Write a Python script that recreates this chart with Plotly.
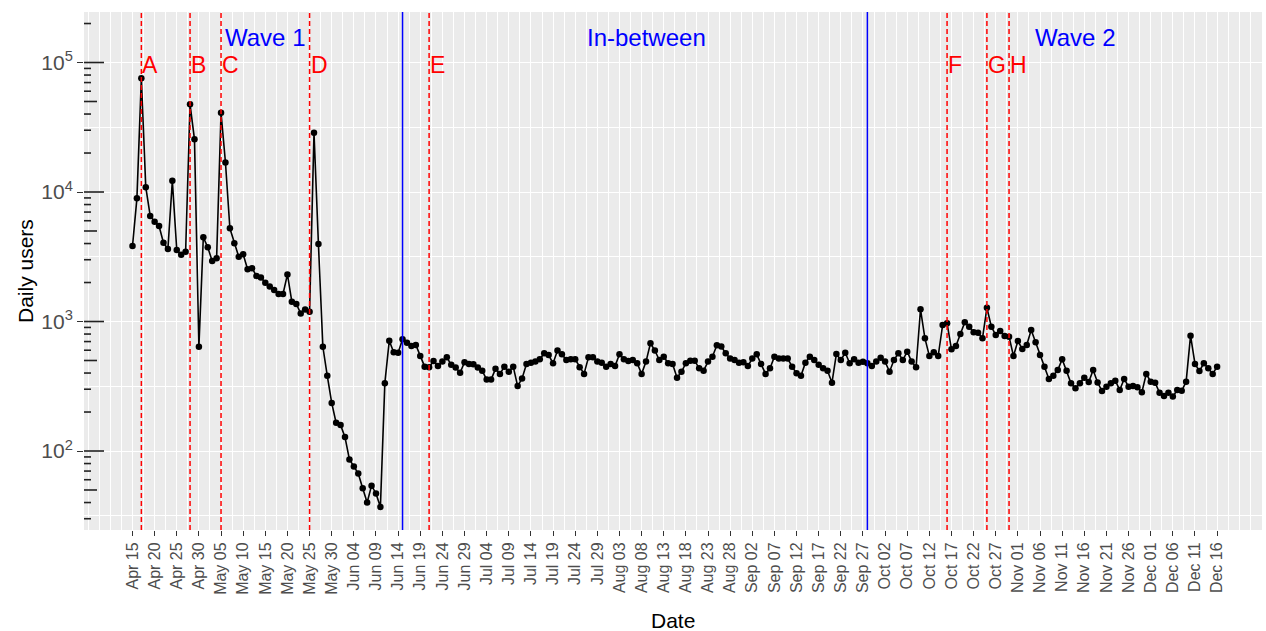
import pandas as pd
import plotly.graph_objects as go

# ---------------- data ----------------
start_date = "2020-04-15"
daily_users = [
    3830, 8930, 75500, 10900, 6530, 5900, 5460, 4050, 3630, 12200,      # Apr 15 - Apr 24
    3570, 3270, 3460, 47500, 25500, 638, 4470, 3740, 2930, 3080,         # Apr 25 - May 04
    40900, 16900, 5250, 4020, 3160, 3300, 2530, 2580, 2250, 2190,        # May 05 - May 14
    1995, 1860, 1750, 1630, 1630, 2310, 1420, 1365, 1155, 1240,          # May 15 - May 24
    1190, 28700, 3960, 638, 381, 235, 165, 159, 128, 86,                 # May 25 - Jun 03
    76, 67, 51.5, 40, 54, 47, 37, 334, 711, 578,                         # Jun 04 - Jun 13
    574, 728, 686, 647, 659, 542, 448, 443, 495, 453,                    # Jun 14 - Jun 23
    490, 529, 463, 441, 402, 485, 470, 468, 441, 417,                    # Jun 24 - Jul 03
    356, 356, 431, 394, 448, 409, 448, 317, 363, 470,                    # Jul 04 - Jul 13
    481, 490, 511, 568, 551, 476, 597, 558, 504, 511,                    # Jul 14 - Jul 23
    511, 443, 394, 529, 529, 490, 481, 448, 470, 453,                    # Jul 24 - Aug 02
    558, 512, 495, 504, 476, 394, 490, 679, 597, 504,                    # Aug 03 - Aug 12
    535, 476, 470, 368, 409, 476, 498, 498, 435, 417,                    # Aug 13 - Aug 22
    490, 535, 655, 641, 568, 518, 504, 481, 485, 453,                    # Aug 23 - Sep 01
    518, 558, 470, 394, 435, 535, 518, 518, 518, 448,                    # Sep 02 - Sep 11
    398, 381, 481, 535, 504, 463, 435, 417, 337, 562,                    # Sep 12 - Sep 21
    504, 574, 476, 511, 481, 488, 475, 453, 490, 525,                    # Sep 22 - Oct 01
    490, 409, 504, 568, 504, 585, 490, 443, 1242, 741,                   # Oct 02 - Oct 11
    542, 578, 542, 940, 969, 610, 647, 800, 986, 912,                    # Oct 12 - Oct 21
    826, 819, 741, 1278, 912, 786, 845, 773, 764, 542,                   # Oct 22 - Oct 31
    706, 614, 659, 860, 690, 551, 448, 360, 381, 422,                    # Nov 01 - Nov 10
    511, 417, 333, 305, 333, 368, 341, 422, 338, 291,                    # Nov 11 - Nov 20
    314, 333, 349, 296, 360, 314, 318, 310, 284, 394,                    # Nov 21 - Nov 30
    343, 337, 282, 266, 282, 263, 296, 292, 343, 777,                    # Dec 01 - Dec 10
    470, 415, 476, 435, 394, 448,                                        # Dec 11 - Dec 16
]

event_labels = ["A", "B", "C", "D", "E", "F", "G", "H"]
event_dates = ["2020-04-17", "2020-04-28", "2020-05-05", "2020-05-25",
               "2020-06-21", "2020-10-16", "2020-10-25", "2020-10-30"]

wave_bounds = ["2020-06-15", "2020-09-28"]
wave_labels = ["Wave 1", "In-between", "Wave 2"]
wave_label_dates = ["2020-05-15", "2020-08-09", "2020-11-14"]

tick_start = "2020-04-15"
tick_end = "2020-12-16"
y_decades = [100, 1000, 10000, 100000]
y_decade_text = ["10<sup>2</sup>", "10<sup>3</sup>", "10<sup>4</sup>", "10<sup>5</sup>"]

# ---------------- figure ----------------
dates = pd.date_range(start_date, periods=len(daily_users), freq="D")
tick_dates = pd.date_range(tick_start, tick_end, freq="5D")

FONT = "Liberation Sans, Arial, sans-serif"
GREY_TXT = "#4D4D4D"

fig = go.Figure()
fig.add_trace(go.Scatter(
    x=dates, y=daily_users, mode="lines+markers",
    line=dict(color="black", width=1.6),
    marker=dict(color="black", size=6.5),
    showlegend=False, hoverinfo="x+y",
))

shapes = []
for d in event_dates:
    shapes.append(dict(type="line", xref="x", yref="paper", x0=d, x1=d, y0=0, y1=1,
                       line=dict(color="#FF0000", width=1.5, dash="5px,3px"), layer="above"))
for d in wave_bounds:
    shapes.append(dict(type="line", xref="x", yref="paper", x0=d, x1=d, y0=0, y1=1,
                       line=dict(color="#0000FF", width=1.5), layer="above"))

# log ticks on the left inside the panel (annotation_logticks style)
for dec in [10, 100, 1000, 10000, 100000]:
    for m in range(1, 10):
        v = dec * m
        if v < 24.5 or v > 245000:
            continue
        if m == 1:
            ln = 20
        elif m == 5:
            ln = 13
        else:
            ln = 7
        shapes.append(dict(type="line", xref="paper", xsizemode="pixel", xanchor=0,
                           x0=0, x1=ln, yref="y", y0=v, y1=v,
                           line=dict(color="#222222", width=1.6), layer="above"))

annotations = []
for lab, d in zip(event_labels, event_dates):
    annotations.append(dict(x=d, y=4.98, xref="x", yref="y", text=lab, showarrow=False,
                            xanchor="left", yanchor="middle", xshift=-1,
                            font=dict(family=FONT, size=23, color="#FF0000")))
for lab, d in zip(wave_labels, wave_label_dates):
    annotations.append(dict(x=d, y=5.193, xref="x", yref="y", text=lab, showarrow=False,
                            xanchor="center", yanchor="middle",
                            font=dict(family=FONT, size=24, color="#0000FF")))
annotations.append(dict(x=0, y=0.5, xref="paper", yref="paper", text="Daily users",
                        textangle=-90, showarrow=False, xanchor="center", yanchor="middle",
                        xshift=-59, font=dict(family=FONT, size=21, color="black")))
annotations.append(dict(x=0.5, y=0, xref="paper", yref="paper", text="Date",
                        showarrow=False, xanchor="center", yanchor="middle",
                        yshift=-90, font=dict(family=FONT, size=21, color="black")))

fig.update_layout(
    width=1266, height=631,
    margin=dict(l=84, r=4, t=12, b=101),
    paper_bgcolor="white", plot_bgcolor="#EBEBEB",
    font=dict(family=FONT),
    shapes=shapes, annotations=annotations,
    showlegend=False,
)
fig.update_xaxes(
    type="date",
    range=["2020-04-04 01:05", "2020-12-26 03:20"],
    tickmode="array", tickvals=tick_dates, tickformat="%b %d",
    tickangle=-90, tickfont=dict(family=FONT, size=16, color=GREY_TXT),
    ticks="outside", ticklen=5, tickwidth=1.2, tickcolor="#333333",
    showgrid=True, gridcolor="white", gridwidth=1.4,
    minor=dict(tick0="2020-04-15", dtick=216000000, showgrid=True,
               gridcolor="white", gridwidth=0.7, ticks=""),
    zeroline=False, showline=False,
)
fig.update_yaxes(
    type="log", range=[1.39, 5.39],
    tickmode="array", tickvals=y_decades, ticktext=y_decade_text,
    tickfont=dict(family=FONT, size=21, color=GREY_TXT),
    ticks="outside", ticklen=6, tickwidth=1.2, tickcolor="#333333",
    showgrid=True, gridcolor="white", gridwidth=1.4,
    minor=dict(tickmode="array", tickvals=[31.62, 316.2, 3162, 31623], showgrid=True,
               gridcolor="white", gridwidth=0.7, ticks=""),
    zeroline=False, showline=False,
)

fig.write_html("out.html", config={"displayModeBar": False},
               post_script="document.body.style.margin='0px';document.body.style.overflow='hidden';")
